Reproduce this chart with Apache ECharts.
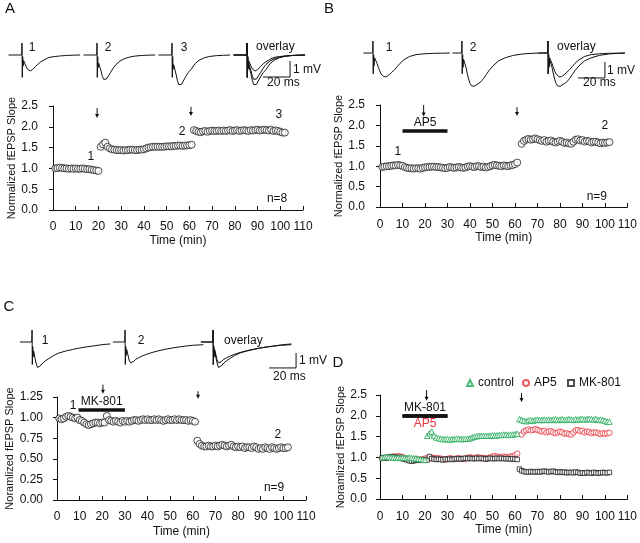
<!DOCTYPE html>
<html>
<head>
<meta charset="utf-8">
<script src="https://cdn.jsdelivr.net/npm/echarts@6/dist/echarts.min.js"></script>
<style>
  html, body { margin: 0; padding: 0; background: #fff; }
  #chart { width: 640px; height: 543px; }
</style>
</head>
<body>
<div id="chart"></div>
<script>
// ---- normalized fEPSP slope, one point per minute; each run starts at the given minute
var aStarts = [1, 21, 62];
var aBase = [1.00, 1.01, 1.02, 1.01, 1.00, 1.00, 0.99, 1.00, 0.99, 1.00,
             0.99, 0.99, 1.00, 0.99, 0.98, 0.98, 0.97, 0.96, 0.95, 0.94];
var aPost1 = [1.52, 1.58, 1.62, 1.52, 1.48, 1.46, 1.45, 1.44, 1.44, 1.44,
              1.43, 1.44, 1.44, 1.45, 1.45, 1.44, 1.44, 1.45, 1.45, 1.46,
              1.48, 1.50, 1.51, 1.52, 1.52, 1.52, 1.52, 1.52, 1.52, 1.53,
              1.53, 1.53, 1.54, 1.54, 1.55, 1.55, 1.54, 1.55, 1.55, 1.56, 1.57];
var aPost2 = [1.92, 1.90, 1.88, 1.87, 1.89, 1.90, 1.88, 1.90, 1.91, 1.90,
              1.90, 1.91, 1.90, 1.91, 1.90, 1.91, 1.92, 1.90, 1.91, 1.92,
              1.90, 1.91, 1.92, 1.91, 1.90, 1.92, 1.91, 1.92, 1.93, 1.91,
              1.92, 1.93, 1.92, 1.91, 1.93, 1.90, 1.91, 1.90, 1.88, 1.86, 1.86];

var bStarts = [1, 63];
var bBase = [0.98, 0.99, 1.00, 1.00, 1.01, 1.02, 1.02, 1.03, 1.02, 1.01,
             0.98, 0.96, 0.95, 0.95, 0.94, 0.95, 0.95, 0.94, 0.96, 0.97,
             0.98, 0.98, 0.99, 0.99, 0.98, 0.98, 0.97, 0.96, 0.95, 0.96,
             0.98, 0.97, 0.96, 0.97, 0.98, 0.97, 0.96, 0.97, 0.99, 1.00,
             0.99, 0.98, 1.00, 1.00, 0.98, 0.99, 0.97, 0.98, 1.00, 1.02,
             1.03, 1.02, 1.01, 1.00, 1.02, 1.01, 1.00, 1.02, 1.03, 1.05, 1.09];
var bPost = [1.55, 1.62, 1.65, 1.67, 1.65, 1.66, 1.68, 1.66, 1.64, 1.62,
             1.64, 1.60, 1.62, 1.63, 1.60, 1.58, 1.60, 1.62, 1.60, 1.57,
             1.58, 1.56, 1.55, 1.60, 1.65, 1.66, 1.63, 1.64, 1.60, 1.62,
             1.61, 1.58, 1.60, 1.60, 1.58, 1.56, 1.58, 1.57, 1.58, 1.59];

var cStarts = [1, 62];
var cBase = [0.99, 0.98, 0.99, 1.01, 1.02, 1.01, 1.00, 0.99, 1.00, 0.97,
             0.96, 0.94, 0.92, 0.91, 0.92, 0.93, 0.94, 0.94, 0.93, 0.94,
             0.94, 1.02, 0.97, 0.96, 0.95, 0.96, 0.95, 0.94, 0.96, 0.95,
             0.96, 0.95, 0.96, 0.97, 0.97, 0.96, 0.97, 0.98, 0.97, 0.98,
             0.97, 0.97, 0.98, 0.97, 0.98, 0.97, 0.96, 0.97, 0.98, 0.97,
             0.97, 0.98, 0.97, 0.98, 0.97, 0.97, 0.97, 0.96, 0.97, 0.96, 0.95];
var cPost = [0.72, 0.68, 0.66, 0.65, 0.65, 0.66, 0.65, 0.65, 0.66, 0.65,
             0.66, 0.67, 0.66, 0.65, 0.66, 0.67, 0.65, 0.64, 0.65, 0.64,
             0.65, 0.63, 0.64, 0.64, 0.63, 0.65, 0.64, 0.62, 0.63, 0.62,
             0.64, 0.63, 0.62, 0.64, 0.63, 0.62, 0.63, 0.64, 0.63, 0.63, 0.64];

// ---- example fEPSP traces (ms, mV)
var msA = [0, 9.8, 10, 10.2, 10.5, 10.8, 11.2, 12, 13, 14, 15, 16, 17, 18, 20, 22, 24, 27, 30, 34, 38, 43, 48, 53];
var trA1 = [0, 0, 0.75, -1.4, -0.1, -0.7, -0.35, -0.45, -0.7, -0.88, -0.97, -1.0, -0.97, -0.9, -0.72, -0.55, -0.42, -0.28, -0.15, -0.1, -0.06, -0.03, -0.01, 0];
var trA2 = [0, 0, 0.75, -1.4, -0.1, -0.8, -0.5, -0.6, -1.0, -1.35, -1.52, -1.56, -1.5, -1.38, -1.1, -0.82, -0.6, -0.38, -0.24, -0.13, -0.07, -0.03, -0.01, 0];
var trA3 = [0, 0, 0.75, -1.4, -0.1, -0.9, -0.6, -0.7, -1.2, -1.6, -1.85, -1.9, -1.84, -1.68, -1.38, -1.1, -0.92, -0.55, -0.33, -0.17, -0.09, -0.04, -0.02, 0];

var msB = [3, 9.8, 10, 10.2, 10.5, 10.8, 11.2, 12, 13, 14, 15, 16, 17, 18, 19, 20, 22, 24, 26, 28, 30, 33, 37, 42, 48, 55, 62, 67];
var trB1 = [0, 0, 0.75, -1.3, -0.1, -0.8, -0.3, -0.4, -0.65, -0.9, -1.12, -1.3, -1.42, -1.48, -1.5, -1.48, -1.36, -1.2, -1.05, -0.85, -0.65, -0.42, -0.22, -0.1, -0.05, -0.02, -0.01, 0];
var trB2 = [0, 0, 0.75, -1.3, -0.1, -0.9, -0.4, -0.5, -0.9, -1.3, -1.65, -1.9, -2.05, -2.1, -2.08, -2.02, -1.92, -1.8, -1.6, -1.35, -1.1, -0.8, -0.5, -0.3, -0.15, -0.06, -0.02, 0];

var msC = [1, 9.8, 10, 10.2, 10.5, 10.8, 11.2, 12, 13, 14, 15, 16, 18, 20, 23, 26, 30, 35, 40, 45, 50, 55, 60, 64, 68];
var trC1 = [0, 0, 0.8, -1.5, -0.3, -1.0, -0.6, -1.0, -1.4, -1.7, -1.72, -1.6, -1.4, -1.25, -1.07, -0.9, -0.73, -0.6, -0.5, -0.4, -0.33, -0.27, -0.2, -0.16, -0.13];
var trC2 = [0, 0, 0.8, -1.5, -0.3, -0.9, -0.5, -0.8, -1.2, -1.38, -1.4, -1.32, -1.15, -1.05, -0.92, -0.82, -0.7, -0.58, -0.48, -0.4, -0.33, -0.27, -0.22, -0.2, -0.18];

var scaleMs = 20, scaleMv = 1;

// arrows: [minute, top, bottom]; drug bars: [from, to, level]
var arrowsA = [[19.4, 2.45, 2.21], [60.7, 2.48, 2.26]];
var arrowsB = [[19.4, 2.50, 2.22], [60.9, 2.45, 2.23]];
var arrowsC = [[20.3, 1.40, 1.29], [62.3, 1.32, 1.23]];
var arrowsD = [[20.7, 2.62, 2.36], [62.9, 2.55, 2.33]];
var barB = [10, 30, 1.86];
var barC = [9.5, 30, 1.10];
var barD = [10, 30, 2.0];

var font = '"Liberation Sans", Arial, Helvetica, sans-serif';
var ink = '#111';
var green = '#1faa55', red = '#e8323c';

function runs(starts, lists) {
  var out = [];
  lists.forEach(function (vals, k) {
    vals.forEach(function (v, i) { out.push([starts[k] + i, v]); });
  });
  return out;
}
function zip(t, v) { return t.map(function (x, i) { return [x, v[i]]; }); }

var slopeA = runs(aStarts, [aBase, aPost1, aPost2]);
var slopeB = runs(bStarts, [bBase, bPost]);
var slopeC = runs(cStarts, [cBase, cPost]);

var grids = [], xAxes = [], yAxes = [], series = [];

function plotPanel(cfg) {
  var g = grids.length;
  grids.push({ left: cfg.left, top: cfg.top, width: cfg.width, height: cfg.height });
  xAxes.push({
    gridIndex: g, type: 'value', min: 0, max: 110, interval: 10, offset: cfg.xOff,
    name: 'Time (min)', nameLocation: 'middle', nameGap: cfg.xGap,
    nameTextStyle: { fontSize: 12, color: ink },
    axisLine: { show: true, lineStyle: { color: ink, width: 1 } },
    axisTick: { show: true, inside: true, length: 4, lineStyle: { color: ink } },
    axisLabel: { fontSize: 12, color: ink, margin: 3 },
    splitLine: { show: false }
  });
  yAxes.push({
    gridIndex: g, type: 'value', min: 0, max: cfg.ymax, interval: cfg.yint, offset: cfg.yOff,
    name: cfg.yName, nameLocation: 'middle', nameGap: cfg.yGap,
    nameTextStyle: { fontSize: 11, color: ink },
    axisLine: { show: true, lineStyle: { color: ink, width: 1 } },
    axisTick: { show: true, inside: false, length: 4, lineStyle: { color: ink } },
    axisLabel: { fontSize: 12, color: ink, margin: 7, formatter: function (v) { return v.toFixed(cfg.dec); } },
    splitLine: { show: false }
  });
  return g;
}

function traceGrid(left, base, t, pxMv) {
  var g = grids.length;
  var tmin = t[0], tmax = t[1], vmin = -2.4, vmax = 1.0, pxMs = 1.35;
  grids.push({ left: left, top: base - vmax * pxMv, width: (tmax - tmin) * pxMs, height: (vmax - vmin) * pxMv });
  xAxes.push({ gridIndex: g, type: 'value', min: tmin, max: tmax, show: false });
  yAxes.push({ gridIndex: g, type: 'value', min: vmin, max: vmax, show: false });
  return g;
}

function traceLine(g, ms, mv) {
  series.push({
    type: 'line', xAxisIndex: g, yAxisIndex: g, data: zip(ms, mv), symbol: 'none',
    lineStyle: { color: ink, width: 1 }, silent: true, clip: false
  });
}

function scaleBar(g, corner) {
  series.push({
    type: 'line', xAxisIndex: g, yAxisIndex: g, symbol: 'none', silent: true, clip: false,
    data: [[corner[0] - scaleMs, corner[1]], [corner[0], corner[1]], [corner[0], corner[1] + scaleMv]],
    lineStyle: { color: ink, width: 1 }
  });
}

function arrowItem(params, api) {
  var top = api.coord([api.value(0), api.value(1)]);
  var bot = api.coord([api.value(0), api.value(2)]);
  return {
    type: 'group', children: [
      { type: 'line', shape: { x1: top[0], y1: top[1], x2: bot[0], y2: bot[1] - 3 }, style: { stroke: ink, lineWidth: 1 } },
      { type: 'polygon', shape: { points: [[bot[0] - 2, bot[1] - 4], [bot[0] + 2, bot[1] - 4], [bot[0], bot[1]]] }, style: { fill: ink } }
    ]
  };
}

function arrows(g, data) {
  series.push({
    type: 'custom', xAxisIndex: g, yAxisIndex: g, data: data, renderItem: arrowItem,
    encode: { x: 0, y: [1, 2] }, silent: true, clip: false
  });
}

function notes(list) {
  return {
    symbol: 'circle', symbolSize: 1, itemStyle: { color: 'rgba(0,0,0,0)' }, silent: true,
    label: { show: true, position: 'inside', color: ink, fontSize: 12, formatter: '{b}' },
    data: list.map(function (n) { return { name: n[0], coord: [n[1], n[2]] }; })
  };
}

function drugBar(bar, labels) {
  return {
    silent: true, symbol: ['none', 'none'],
    lineStyle: { color: ink, width: 3.5, type: 'solid' },
    data: labels.map(function (l) {
      return [
        { coord: [bar[0], bar[2]], label: { show: true, formatter: l[0], position: l[1], color: l[2], fontSize: 12, distance: 2 } },
        { coord: [bar[1], bar[2]] }
      ];
    })
  };
}

function circles(g, data, extra) {
  var s = {
    type: 'scatter', xAxisIndex: g, yAxisIndex: g, data: data, symbol: 'circle', symbolSize: 7,
    itemStyle: { color: '#fff', borderColor: '#222', borderWidth: 1 }, silent: true
  };
  for (var k in extra) s[k] = extra[k];
  series.push(s);
}

// ---- panel A
var gA = plotPanel({ left: 53, top: 106, width: 250, height: 104, xOff: 8, yOff: 8, xGap: 17, yGap: 27,
  ymax: 2.5, yint: 0.5, dec: 1, yName: 'Normalized fEPSP Slope' });
circles(gA, slopeA, { markPoint: notes([['1', 16.7, 1.27], ['2', 56.8, 1.875], ['3', 99.4, 2.28], ['n=8', 98.6, 0.26]]) });
arrows(gA, arrowsA);

// ---- panel B
var gB = plotPanel({ left: 380, top: 105, width: 250, height: 102, xOff: 9, yOff: 8, xGap: 16, yGap: 28,
  ymax: 2.5, yint: 0.5, dec: 1, yName: 'Normalized fEPSP Slope' });
circles(gB, slopeB, {
  markPoint: notes([['1', 7.9, 1.35], ['2', 99.9, 2.0], ['n=9', 96.4, 0.25]]),
  markLine: drugBar(barB, [['AP5', 'insideMiddleTop', ink]])
});
arrows(gB, arrowsB);

// ---- panel C
var gC = plotPanel({ left: 57, top: 397, width: 249, height: 103, xOff: 8, yOff: 7, xGap: 18, yGap: 33,
  ymax: 1.25, yint: 0.25, dec: 2, yName: 'Noramlized fEPSP Slope' });
circles(gC, slopeC, {
  markPoint: notes([['1', 7.1, 1.15], ['2', 97.6, 0.79], ['n=9', 95.9, 0.15]]),
  markLine: drugBar(barC, [['MK-801', 'insideMiddleTop', ink]])
});
arrows(gC, arrowsC);

// ---- panel D
var gD = plotPanel({ left: 380, top: 395, width: 250, height: 104, xOff: 9, yOff: 6, xGap: 16, yGap: 26,
  ymax: 2.5, yint: 0.5, dec: 1, yName: 'Noramlized fEPSP Slope' });
series.push({
  name: 'AP5', type: 'scatter', xAxisIndex: gD, yAxisIndex: gD, data: slopeB, symbol: 'circle', symbolSize: 5.5,
  itemStyle: { color: '#fff', borderColor: red, borderWidth: 1 }, silent: true
});
series.push({
  name: 'MK-801', type: 'scatter', xAxisIndex: gD, yAxisIndex: gD, data: slopeC, symbol: 'rect', symbolSize: 4.5,
  itemStyle: { color: '#fff', borderColor: '#222', borderWidth: 1 }, silent: true,
  markLine: drugBar(barD, [['MK-801', 'insideMiddleTop', ink], ['AP5', 'insideMiddleBottom', red]])
});
series.push({
  name: 'control', type: 'scatter', xAxisIndex: gD, yAxisIndex: gD, data: slopeA, symbol: 'triangle', symbolSize: 5.5,
  itemStyle: { color: '#fff', borderColor: green, borderWidth: 1 }, silent: true
});
arrows(gD, arrowsD);

// ---- traces, panel A
var tA = [0, 55];
traceLine(traceGrid(8.5, 55, tA, 16), msA, trA1);
traceLine(traceGrid(83.5, 55, tA, 16), msA, trA2);
traceLine(traceGrid(158.5, 55, tA, 16), msA, trA3);
var oA = traceGrid(233.5, 55, tA, 16);
traceLine(oA, msA, trA1); traceLine(oA, msA, trA2); traceLine(oA, msA, trA3);
scaleBar(oA, [41.9, -1.375]);

// ---- traces, panel B
var tB = [3, 67];
traceLine(traceGrid(363.5, 53, tB, 16), msB, trB1);
traceLine(traceGrid(452.5, 53, tB, 16), msB, trB2);
var oB = traceGrid(538.5, 53, tB, 16);
traceLine(oB, msB, trB1); traceLine(oB, msB, trB2);
scaleBar(oB, [52.2, -1.56]);

// ---- traces, panel C
var tC = [1, 72];
traceLine(traceGrid(19.9, 342, tC, 15), msC, trC1);
traceLine(traceGrid(112.9, 342, tC, 15), msC, trC2);
var oC = traceGrid(200.9, 342, tC, 15);
traceLine(oC, msC, trC1); traceLine(oC, msC, trC2);
scaleBar(oC, [71.5, -1.73]);

// ---- free text: panel letters, trace labels, scale bar units
var texts = [
  ['A', 10, 8.5, 'center', 15], ['B', 329, 8.5, 'center', 15], ['C', 9, 306.5, 'center', 15], ['D', 338, 363, 'center', 15],
  ['1', 32, 48], ['2', 108, 48], ['3', 184, 48], ['overlay', 256, 47, 'left'], ['1 mV', 293, 70, 'left'], ['20 ms', 267, 83, 'left'],
  ['1', 389, 48], ['2', 473, 48], ['overlay', 557, 47, 'left'], ['1 mV', 607, 71, 'left'], ['20 ms', 583, 83, 'left'],
  ['1', 45, 341], ['2', 141, 341], ['overlay', 224, 341, 'left'], ['1 mV', 299, 361, 'left'], ['20 ms', 273, 377, 'left']
];

function legendAt(left, name, icon) {
  return {
    left: left, top: 377, itemWidth: 6, itemHeight: 6, padding: 0,
    textStyle: { fontSize: 12, color: ink }, selectedMode: false,
    data: [{ name: name, icon: icon }]
  };
}

var chart = echarts.init(document.getElementById('chart'), null, { renderer: 'canvas' });
chart.setOption({
  animation: false,
  backgroundColor: '#fff',
  textStyle: { fontFamily: font, color: ink },
  legend: [legendAt(466, 'control', 'triangle'), legendAt(522, 'AP5', 'circle'), legendAt(567, 'MK-801', 'rect')],
  grid: grids,
  xAxis: xAxes,
  yAxis: yAxes,
  series: series,
  graphic: texts.map(function (t) {
    return {
      type: 'text', x: t[1], y: t[2], silent: true,
      style: { text: t[0], fill: ink, font: (t[4] || 12) + 'px ' + font, align: t[3] || 'center', verticalAlign: 'middle' }
    };
  })
});
</script>
</body>
</html>
